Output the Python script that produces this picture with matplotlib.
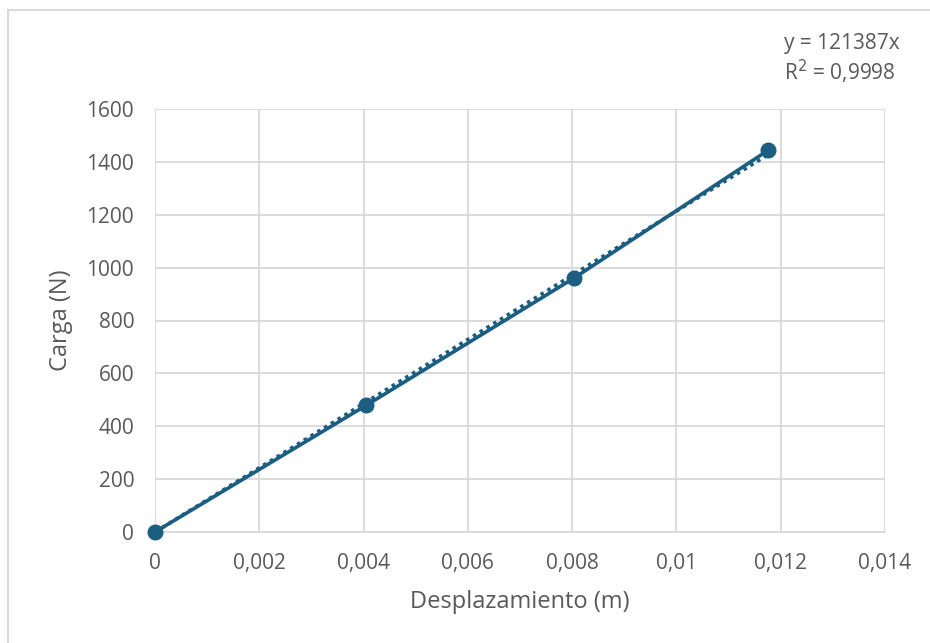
import matplotlib
matplotlib.use("Agg")
import matplotlib.pyplot as plt
import numpy as np
from matplotlib.patches import Rectangle

plt.rcParams['font.family'] = ['Open Sans', 'DejaVu Sans']

desplazamiento = [0.0, 0.00405, 0.00804, 0.01176]
carga = [0.0, 479.0, 961.0, 1444.0]
pendiente = 121387
r2_text = "0,9998"
x_ticks = [0, 0.002, 0.004, 0.006, 0.008, 0.01, 0.012, 0.014]
x_tick_labels = ["0", "0,002", "0,004", "0,006", "0,008", "0,01", "0,012", "0,014"]
y_ticks = [0, 200, 400, 600, 800, 1000, 1200, 1400, 1600]

color = "#1B5E82"
tick_color = "#595959"
grid_color = "#D9D9D9"

fig = plt.figure(figsize=(9.3, 6.43), dpi=100)
fig.patches.append(Rectangle((8/930, -0.1), 1.2, (643-10)/643 + 0.1, transform=fig.transFigure,
                             fill=False, edgecolor="#D9D9D9", linewidth=1.5, zorder=0))
ax = fig.add_axes([155/930, (643-532)/643, 730/930, (532-109)/643])

ax.plot(desplazamiento, carga, color=color, linewidth=2.6, marker='o', markersize=10.5, zorder=3,
        solid_capstyle='round', clip_on=False)
xt = np.array([0.0, desplazamiento[-1]])
ax.plot(xt, pendiente * xt, color=color, linewidth=2.6, linestyle=(0, (1, 1.2)), zorder=2, clip_on=False)

ax.set_xlim(0, 0.014)
ax.set_ylim(0, 1600)
ax.set_xticks(x_ticks)
ax.set_xticklabels(x_tick_labels)
ax.set_yticks(y_ticks)
ax.grid(True, color=grid_color, linewidth=1.3)
ax.set_axisbelow(True)
for s in ['top', 'right', 'left']:
    ax.spines[s].set_visible(False)
ax.spines['bottom'].set_color(grid_color)
ax.spines['bottom'].set_linewidth(1.3)
ax.tick_params(axis='both', length=0, labelsize=15, labelcolor=tick_color)
ax.tick_params(axis='x', pad=15)
ax.tick_params(axis='y', pad=15)
ax.set_xlabel("Desplazamiento (m)", fontsize=17, color=tick_color, labelpad=12)
ax.set_ylabel("Carga (N)", fontsize=17, color=tick_color, labelpad=10)

fig.text(842/930, 1 - 44/643, f"y = {pendiente}x", ha='center', va='center', fontsize=15, color=tick_color)
fig.text(840/930, 1 - 72/643, f"R$^2$ = {r2_text}", ha='center', va='center', fontsize=15, color=tick_color)

fig.savefig("out.png", dpi=100)
